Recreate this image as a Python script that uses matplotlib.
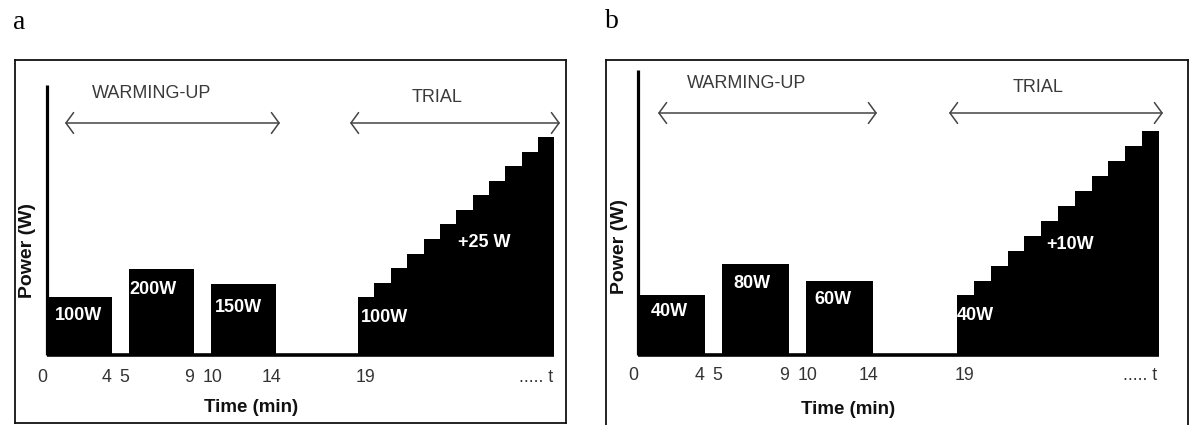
import matplotlib
matplotlib.use("Agg")
import matplotlib.pyplot as plt
from matplotlib.patches import FancyArrowPatch
from matplotlib import font_manager

# ---------------- data ----------------
tick_labels = ["0", "4", "5", "9", "10", "14", "19", "..... t"]
tick_pos = [-0.3, 3.65, 4.7, 8.7, 10.1, 13.7, 19.45, 29.9]   # minutes where labels sit

warm_start = [0, 5, 10]
warm_end = [4, 9, 14]
trial_edges = [19, 20, 21, 22, 23, 24, 25, 26, 27, 28, 29, 30, 31]

# panel a  (drawn heights are schematic, expressed in W of the trial ramp)
warm_labels_a = ["100W", "200W", "150W"]
warm_height_a = [100, 148, 122]
trial_power_a = [100, 125, 150, 175, 200, 225, 250, 275, 300, 325, 350, 375]
trial_labels_a = ["100W", "+25 W"]

# panel b
warm_labels_b = ["40W", "80W", "60W"]
warm_height_b = [40, 61, 50]
trial_power_b = [40, 50, 60, 70, 80, 90, 100, 110, 120, 130, 140, 150]
trial_labels_b = ["40W", "+10W"]

phase_labels = ["WARMING-UP", "TRIAL"]
panel_letters = ["a", "b"]

# ---------------- layout ----------------
W, H = 1191, 425
names = {f.name for f in font_manager.fontManager.ttflist}
NARROW = "Liberation Sans Narrow" if "Liberation Sans Narrow" in names else None
SANS = "Liberation Sans"
SERIF = "Liberation Serif"
tick_font = NARROW or SANS
tick_size = 14.5 if NARROW else 12.8


def F(x, y):
    return (x / W, 1 - y / H)


fig = plt.figure(figsize=(W / 100, H / 100), dpi=100)
fig.patch.set_facecolor("white")

panels = [
    dict(frame=(15, 60, 566, 423), x0=47, ppm=16.37, base=355, ppw=0.58,
         axis_top=85, arrow_y=123, arrows=[(65, 280), (350, 560)],
         phase_xy=[(152, 93), (437, 98)],
         warm_lab_xy=[(78, 315), (153, 290), (238, 307)],
         trial_lab_xy=[(385, 317), (484, 242)],
         xlabel_xy=(251, 408), ylabel_xy=(27, 250), letter_xy=(19, 29),
         tick_pad=10.0,
         warm_labels=warm_labels_a, warm_height=warm_height_a,
         trial_power=trial_power_a, trial_labels=trial_labels_a),
    dict(frame=(606, 60, 1188, 432), x0=638, ppm=16.8, base=355, ppw=1.49,
         axis_top=70, arrow_y=113, arrows=[(658, 877), (949, 1163)],
         phase_xy=[(747, 83), (1038, 88)],
         warm_lab_xy=[(669, 312), (752, 283), (833, 299)],
         trial_lab_xy=[(975, 315), (1070, 245)],
         xlabel_xy=(848, 410), ylabel_xy=(619, 246), letter_xy=(612, 28),
         tick_pad=8.7,
         warm_labels=warm_labels_b, warm_height=warm_height_b,
         trial_power=trial_power_b, trial_labels=trial_labels_b),
]

for i, p in enumerate(panels):
    fx0, fy0, fx1, fy1 = p["frame"]
    # frame box
    axf = fig.add_axes([fx0 / W, 1 - fy1 / H, (fx1 - fx0) / W, (fy1 - fy0) / H])
    axf.set_xticks([])
    axf.set_yticks([])
    axf.patch.set_alpha(0)
    for s in axf.spines.values():
        s.set_linewidth(1.3)
        s.set_color("#111111")

    # plotting axes: same x extent, bottom at the baseline
    base = p["base"]
    ax = fig.add_axes([fx0 / W, 1 - base / H, (fx1 - fx0) / W, (base - fy0) / H])
    ax.patch.set_alpha(0)
    ax.set_xlim((fx0 - p["x0"]) / p["ppm"], (fx1 - p["x0"]) / p["ppm"])
    ax.set_ylim(0, (base - fy0) / p["ppw"])
    for s in ax.spines.values():
        s.set_visible(False)
    ax.set_yticks([])

    # warm-up blocks
    widths = [e - s for s, e in zip(warm_start, warm_end)]
    ax.bar(warm_start, p["warm_height"], width=widths, align="edge",
           color="black", linewidth=0)
    # trial ramp
    ax.stairs(p["trial_power"], trial_edges, fill=True, color="black",
              baseline=0, linewidth=0)
    # baseline and vertical axis
    ax.plot([0, trial_edges[-1]], [0, 0], color="black", lw=2.6,
            solid_capstyle="butt", clip_on=False)
    top = (base - p["axis_top"]) / p["ppw"]
    ax.plot([0, 0], [0, top], color="black", lw=2.3,
            solid_capstyle="butt", clip_on=False)

    # x tick labels
    ax.set_xticks(tick_pos, tick_labels)
    ax.tick_params(axis="x", length=0, pad=p["tick_pad"], labelsize=tick_size,
                   labelcolor="#333333")
    for t in ax.get_xticklabels():
        t.set_fontfamily(tick_font)

    # phase arrows and labels
    for (ax0, ax1), (tx, ty), lab in zip(p["arrows"], p["phase_xy"], phase_labels):
        arr = FancyArrowPatch(F(ax0, p["arrow_y"]), F(ax1, p["arrow_y"]),
                              transform=fig.transFigure,
                              arrowstyle="<->,head_length=0.55,head_width=0.75",
                              mutation_scale=10, lw=1.1, color="#444444",
                              shrinkA=0, shrinkB=0)
        fig.add_artist(arr)
        fig.text(*F(tx, ty), lab, ha="center", va="center", fontsize=13,
                 family=SANS, color="#3a3a3a")

    # white labels in the blocks
    for (tx, ty), lab in zip(p["warm_lab_xy"], p["warm_labels"]):
        fig.text(*F(tx, ty), lab, ha="center", va="center", fontsize=13,
                 family=SANS, weight="bold", color="white")
    for (tx, ty), lab in zip(p["trial_lab_xy"], p["trial_labels"]):
        fig.text(*F(tx, ty), lab, ha="center", va="center", fontsize=13,
                 family=SANS, weight="bold", color="white")

    # axis titles
    fig.text(*F(*p["xlabel_xy"]), "Time (min)", ha="center", va="center",
             fontsize=13.5, family=SANS, weight="bold", color="#111111")
    fig.text(*F(*p["ylabel_xy"]), "Power (W)", ha="center", va="center",
             rotation=90, fontsize=14, family=SANS, weight="bold",
             color="#111111")
    # panel letter
    fig.text(*F(*p["letter_xy"]), panel_letters[i], ha="center",
             va="baseline", fontsize=20, family=SERIF, color="black")

fig.savefig("out.png", dpi=100, facecolor="white")
